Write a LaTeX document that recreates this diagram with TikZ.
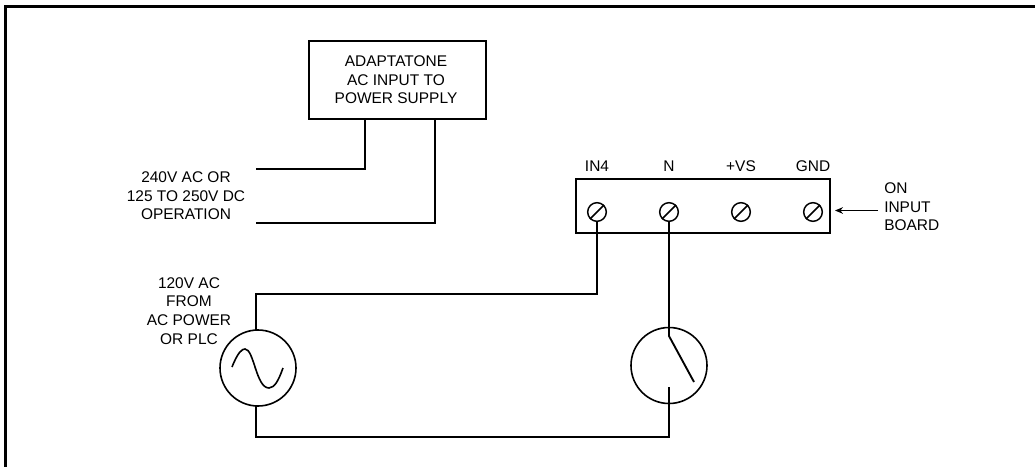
\documentclass[tikz,border=0pt]{standalone}
\usepackage{fontspec}
\setmainfont{Liberation Sans}
\usetikzlibrary{arrows.meta, positioning}

\tikzset{
    wire/.style = {line width=1.4pt},
    caption/.style = {align=center, font=\fontsize{11.6}{14}\selectfont, inner sep=0pt},
    box/.style = {draw, line width=1.5pt, inner sep=0pt},
    source/.style = {draw, circle, line width=1.2pt, minimum size=57pt, inner sep=0pt},
    screw/.style = {draw, circle, line width=1.1pt, minimum size=14pt, inner sep=0pt},
}

\begin{document}
\begin{tikzpicture} [x=0.75pt, y=-0.75pt, line join=miter]
\useasboundingbox (0,0) rectangle (1035,467);

% frame
\draw [line width=1.9pt] (5.3,470) -- (5.3,6.7) -- (1040,6.7);

% supply box
\node (psu) [box, minimum width=133pt, minimum height=58pt] at (397.5,80) {};
\node (psutext) [caption] at (396,80) {ADAPTATONE\\AC INPUT TO\\POWER SUPPLY};
\coordinate (psua) at (365,118.5);
\coordinate (psub) at (435,118.5);
\coordinate (lineaend) at (256,169);
\coordinate (linebend) at (256,223);
\node (optext) [caption] at (186,196) {240V AC OR\\125 TO 250V DC\\OPERATION};

\draw [wire] (psua) |- (lineaend);
\draw [wire] (psub) |- (linebend);

% input board
\node (board) [box, minimum width=190.5pt, minimum height=40.5pt] at (703,205.5) {};
\foreach \name/\px/\txt in {in/597/IN4, n/669/N, vs/741/+VS, gnd/813/GND} {
    \node (\name) [screw] at (\px,212) {};
    \draw [line width=1.1pt] (\name.225) -- (\name.45);
    \node (\name text) [caption] at (\px,166) {\txt};
}
\node (ontext) [caption, align=left, anchor=west] at (884,207) {ON\\INPUT\\BOARD};
\coordinate (ontail) at (878,210.5);
\coordinate (ontip) at (835,210.5);
\draw [-{Stealth[length=6pt,width=5pt]}, line width=0.8pt] (ontail) -- (ontip);

% sources
\node (ac) [source] at (258,368) {};
\node (sw) [source] at (669,365.5) {};
\node (actext) [caption] at (189,311) {120V AC\\FROM\\AC POWER\\OR PLC};

\draw [line width=1.2pt] (232,367)
    .. controls (238,352) and (242,349) .. (245,349) .. controls (254,349) and (256,388) .. (269,388) .. controls (275,388) and (279,379) .. (283,368);

\coordinate (achigh) at (256,294);
\coordinate (actop) at (256,330);
\coordinate (acbot) at (256,406);
\coordinate (aclow) at (256,437);
\coordinate (swpivot) at (669,336);
\coordinate (swblade) at (694,382);
\coordinate (swcontact) at (669,387);

\draw [wire] (in.south) |- (achigh) -- (actop);
\draw [wire] (acbot) -- (aclow) -| (swcontact);
\draw [wire] (n.south) -- (swpivot) -- (swblade);
\end{tikzpicture}
\end{document}
